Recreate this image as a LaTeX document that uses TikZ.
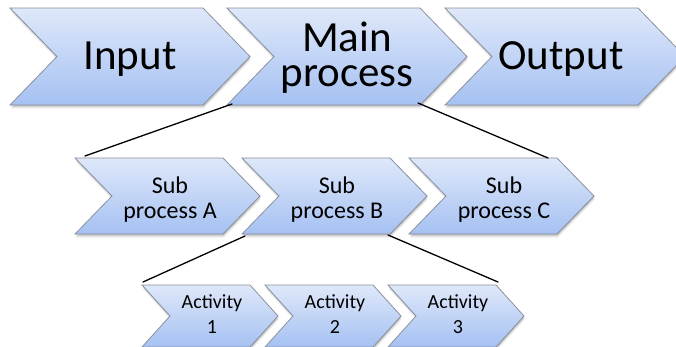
\documentclass[tikz,border=0pt]{standalone}
\usepackage{fontspec}
\setmainfont{Carlito}
\usetikzlibrary{calc}

\definecolor{chevtop}{RGB}{223,232,250}
\definecolor{chevbot}{RGB}{165,193,242}
\definecolor{chevline}{RGB}{138,145,158}

\tikzset{
  chevbody/.style={top color=chevtop, bottom color=chevbot, draw=chevline, line width=0.8pt, line join=miter},
  bigtext/.style={font=\fontsize{43}{35}\selectfont, align=center, inner sep=0pt},
  midtext/.style={font=\fontsize{24}{25}\selectfont, align=center, inner sep=0pt},
  smalltext/.style={font=\fontsize{20}{25}\selectfont, align=center, inner sep=0pt},
  link/.style={draw=black, line width=1.3pt, line cap=round}
}

% #1 name, #2 left x, #3 top y, #4 length of the top edge, #5 height, #6 depth of notch and tip
\newcommand\chevron[6]{%
  \foreach \s/\o in {1/0.10,2/0.08,3/0.06,4/0.04}{%
    \fill[black, opacity=\o, shift={(0.6,\s)}]
      (#2,#3) -- ++(#4,0) -- ++(#6,#5/2) -- ++(-#6,#5/2) -- ++(-#4,0) -- ++(#6,-#5/2) -- cycle;
  }
  \path[chevbody]
    (#2,#3) -- ++(#4,0) -- ++(#6,#5/2) -- ++(-#6,#5/2) -- ++(-#4,0) -- ++(#6,-#5/2) -- cycle;
  \coordinate (#1-tl) at (#2,#3);
  \coordinate (#1-tr) at (#2+#4,#3);
  \coordinate (#1-bl) at (#2,#3+#5);
  \coordinate (#1-br) at (#2+#4,#3+#5);
}

\begin{document}
\begin{tikzpicture}[x=1pt, y=-1pt]
  \useasboundingbox (0,0) rectangle (676,347);

  % top level
  \chevron{input}{10}{8}{193}{97}{47}
  \chevron{main}{227}{8}{193}{97}{47}
  \chevron{output}{445}{8}{193}{97}{47}
  \node[bigtext, anchor=base] (tin) at (130,70) {Input};
  \node[bigtext] (tmain) at (347,58) {Main\\process};
  \node[bigtext, anchor=base] (tout) at (561,70) {Output};

  % sub processes
  \chevron{subA}{75}{158}{148}{76}{37}
  \chevron{subB}{242}{158}{148}{76}{37}
  \chevron{subC}{409}{158}{148}{76}{37}
  \node[midtext] (tA) at (170,199.7) {Sub\\process A};
  \node[midtext] (tB) at (337,199.7) {Sub\\process B};
  \node[midtext] (tC) at (504,199.7) {Sub\\process C};

  % activities
  \chevron{actA}{142}{285}{108}{62}{28}
  \chevron{actB}{265}{285}{108}{62}{28}
  \chevron{actC}{388}{285}{108}{62}{28}
  \node[smalltext] (t1) at (212,313.7) {Activity\\1};
  \node[smalltext] (t2) at (335,313.7) {Activity\\2};
  \node[smalltext] (t3) at (458,313.7) {Activity\\3};

  % expansion lines
  \draw[link] ($(main-bl)+(5,-1)$) -- ($(subA-tl)+(10,-2)$);
  \draw[link] ($(main-br)+(-2,-2)$) -- ($(subC-tr)+(-9,0)$);
  \draw[link] ($(subB-bl)+(3,2)$) -- ($(actA-tl)+(1,-3)$);
  \draw[link] ($(subB-br)+(-2,1)$) -- ($(actC-tr)+(2,-3)$);
\end{tikzpicture}
\end{document}
